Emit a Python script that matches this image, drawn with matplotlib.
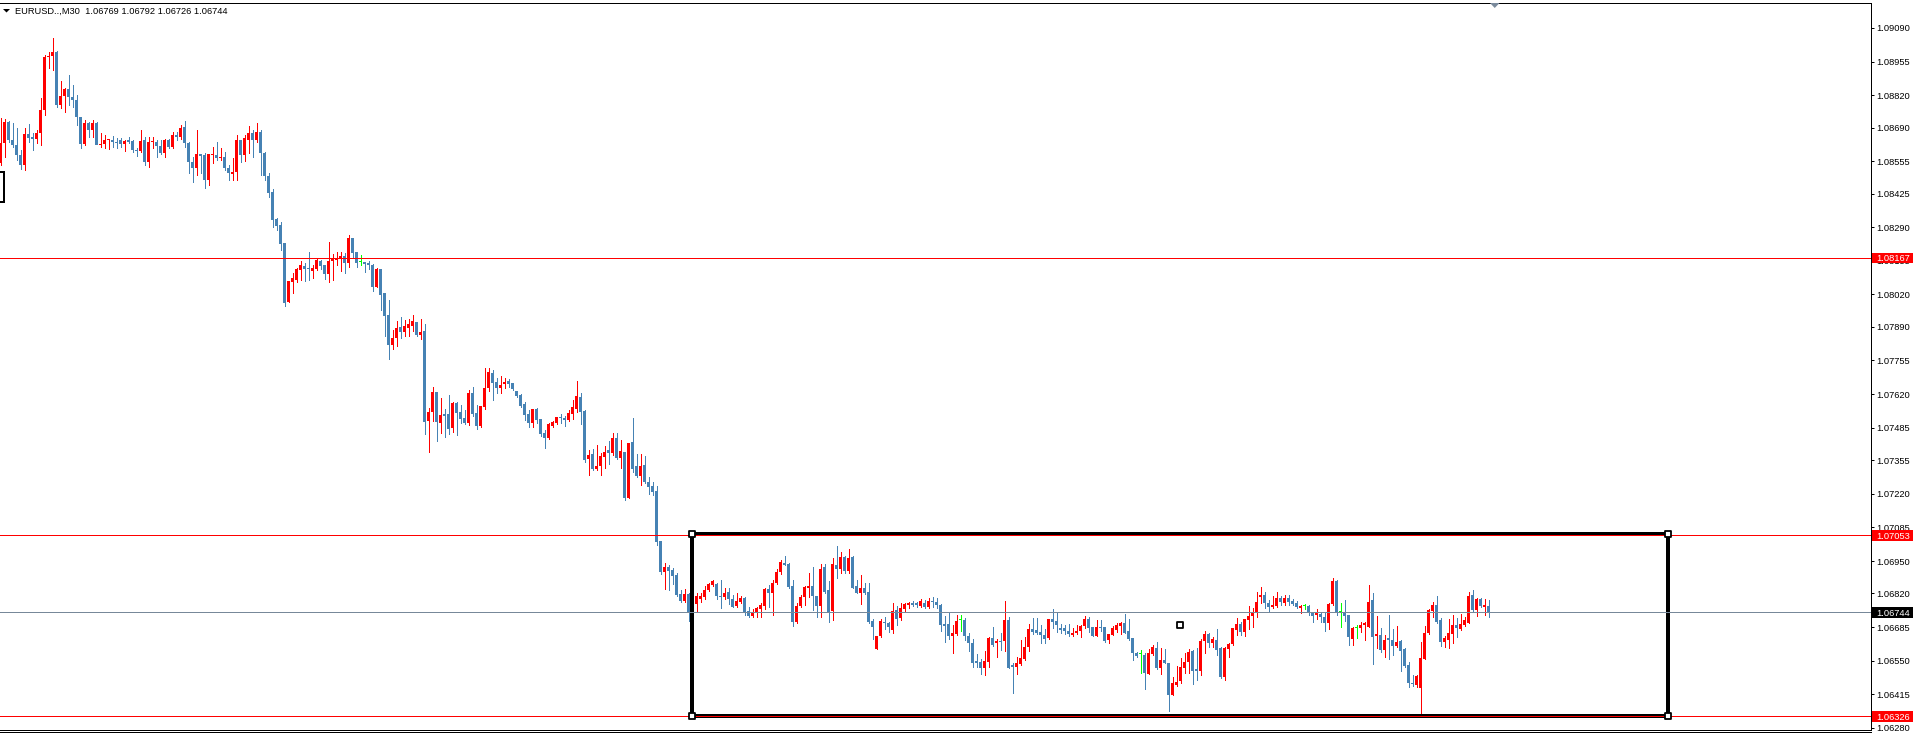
import matplotlib
matplotlib.use('agg')  # no display here
import numpy as np
from matplotlib import pyplot as plt
from matplotlib import transforms
from matplotlib.patches import Rectangle, Polygon
from matplotlib.lines import Line2D

plt.rcParams['font.family'] = ['Liberation Sans', 'DejaVu Sans']

symbol = 'EURUSD..,M30'

# M30 candles, oldest first
opens = [
    1.08548, 1.08628, 1.08712, 1.08640, 1.08620, 1.08580, 1.08540, 1.08664, 1.08652, 1.08644,
    1.08668, 1.08761, 1.08973, 1.08977, 1.08993, 1.08781, 1.08817, 1.08845, 1.08813, 1.08801,
    1.08732, 1.08624, 1.08708, 1.08680, 1.08708, 1.08620, 1.08624, 1.08640, 1.08640, 1.08632,
    1.08640, 1.08624, 1.08640, 1.08636, 1.08600, 1.08596, 1.08640, 1.08552, 1.08632, 1.08632,
    1.08616, 1.08588, 1.08640, 1.08612, 1.08660, 1.08652, 1.08692, 1.08628, 1.08552, 1.08528,
    1.08584, 1.08580, 1.08480, 1.08580, 1.08580, 1.08568, 1.08572, 1.08528, 1.08504, 1.08512,
    1.08640, 1.08580, 1.08640, 1.08668, 1.08640, 1.08672, 1.08588, 1.08496, 1.08431, 1.08323,
    1.08299, 1.08227, 1.07990, 1.08070, 1.08078, 1.08118, 1.08134, 1.08126, 1.08116, 1.08122,
    1.08154, 1.08138, 1.08102, 1.08154, 1.08158, 1.08166, 1.08174, 1.08146, 1.08247, 1.08190,
    1.08150, 1.08150, 1.08146, 1.08138, 1.08050, 1.08122, 1.08026, 1.07938, 1.07817, 1.07845,
    1.07889, 1.07869, 1.07885, 1.07893, 1.07910, 1.07857, 1.07873, 1.07512, 1.07548, 1.07629,
    1.07504, 1.07540, 1.07540, 1.07484, 1.07584, 1.07548, 1.07524, 1.07504, 1.07625, 1.07544,
    1.07492, 1.07568, 1.07645, 1.07705, 1.07669, 1.07645, 1.07661, 1.07673, 1.07665, 1.07633,
    1.07617, 1.07580, 1.07540, 1.07504, 1.07560, 1.07520, 1.07464, 1.07444, 1.07492, 1.07504,
    1.07528, 1.07524, 1.07516, 1.07540, 1.07560, 1.07609, 1.07552, 1.07360, 1.07380, 1.07319,
    1.07331, 1.07368, 1.07396, 1.07384, 1.07444, 1.07364, 1.07388, 1.07203, 1.07428, 1.07331,
    1.07291, 1.07335, 1.07267, 1.07251, 1.07231, 1.07030, 1.06906, 1.06926, 1.06914, 1.06894,
    1.06818, 1.06790, 1.06818, 1.06733, 1.06778, 1.06798, 1.06806, 1.06834, 1.06854, 1.06858,
    1.06810, 1.06806, 1.06826, 1.06798, 1.06770, 1.06786, 1.06802, 1.06749, 1.06729, 1.06741,
    1.06758, 1.06770, 1.06838, 1.06822, 1.06862, 1.06906, 1.06942, 1.06938, 1.06850, 1.06705,
    1.06770, 1.06806, 1.06842, 1.06850, 1.06810, 1.06770, 1.06926, 1.06834, 1.06749, 1.06934,
    1.06918, 1.06966, 1.06910, 1.06966, 1.06850, 1.06822, 1.06842, 1.06826, 1.06709, 1.06597,
    1.06649, 1.06705, 1.06701, 1.06673, 1.06753, 1.06721, 1.06758, 1.06774, 1.06782, 1.06782,
    1.06770, 1.06782, 1.06766, 1.06790, 1.06786, 1.06774, 1.06697, 1.06697, 1.06649, 1.06657,
    1.06713, 1.06713, 1.06649, 1.06621, 1.06549, 1.06545, 1.06521, 1.06545, 1.06641, 1.06621,
    1.06629, 1.06629, 1.06713, 1.06533, 1.06525, 1.06537, 1.06557, 1.06605, 1.06677, 1.06673,
    1.06665, 1.06653, 1.06641, 1.06717, 1.06709, 1.06681, 1.06681, 1.06669, 1.06653, 1.06661,
    1.06669, 1.06689, 1.06717, 1.06685, 1.06649, 1.06685, 1.06685, 1.06633, 1.06653, 1.06673,
    1.06689, 1.06701, 1.06669, 1.06641, 1.06581, 1.06577, 1.06573, 1.06497, 1.06577, 1.06601,
    1.06521, 1.06553, 1.06541, 1.06412, 1.06453, 1.06469, 1.06521, 1.06545, 1.06589, 1.06517,
    1.06509, 1.06629, 1.06657, 1.06621, 1.06633, 1.06601, 1.06485, 1.06597, 1.06617, 1.06673,
    1.06697, 1.06665, 1.06713, 1.06729, 1.06741, 1.06806, 1.06814, 1.06782, 1.06766, 1.06770,
    1.06802, 1.06782, 1.06802, 1.06790, 1.06782, 1.06762, 1.06770, 1.06770, 1.06741, 1.06733,
    1.06737, 1.06725, 1.06701, 1.06778, 1.06870, 1.06745, 1.06745, 1.06733, 1.06637, 1.06681,
    1.06681, 1.06693, 1.06685, 1.06794, 1.06649, 1.06653, 1.06593, 1.06641, 1.06633, 1.06609,
    1.06629, 1.06597, 1.06533, 1.06461, 1.06453, 1.06440, 1.06557, 1.06661, 1.06749, 1.06774,
    1.06713, 1.06625, 1.06633, 1.06657, 1.06693, 1.06677, 1.06693, 1.06701, 1.06814, 1.06753,
    1.06798, 1.06766, 1.06769,
]
highs = [
    1.08728, 1.08724, 1.08716, 1.08708, 1.08688, 1.08600, 1.08688, 1.08704, 1.08668, 1.08680,
    1.08809, 1.08981, 1.08993, 1.09049, 1.08997, 1.08877, 1.08849, 1.08901, 1.08861, 1.08821,
    1.08732, 1.08720, 1.08712, 1.08720, 1.08712, 1.08668, 1.08660, 1.08644, 1.08656, 1.08648,
    1.08648, 1.08640, 1.08652, 1.08640, 1.08608, 1.08680, 1.08652, 1.08652, 1.08652, 1.08640,
    1.08640, 1.08644, 1.08644, 1.08672, 1.08672, 1.08700, 1.08716, 1.08632, 1.08572, 1.08680,
    1.08584, 1.08588, 1.08584, 1.08612, 1.08632, 1.08608, 1.08592, 1.08540, 1.08568, 1.08660,
    1.08640, 1.08660, 1.08696, 1.08680, 1.08708, 1.08680, 1.08592, 1.08508, 1.08443, 1.08327,
    1.08311, 1.08227, 1.08074, 1.08106, 1.08126, 1.08154, 1.08146, 1.08190, 1.08138, 1.08162,
    1.08158, 1.08138, 1.08231, 1.08182, 1.08190, 1.08190, 1.08186, 1.08259, 1.08247, 1.08190,
    1.08178, 1.08150, 1.08154, 1.08142, 1.08126, 1.08122, 1.08026, 1.07998, 1.07877, 1.07914,
    1.07930, 1.07918, 1.07922, 1.07938, 1.07910, 1.07922, 1.07901, 1.07564, 1.07649, 1.07629,
    1.07604, 1.07560, 1.07616, 1.07588, 1.07588, 1.07576, 1.07556, 1.07637, 1.07649, 1.07576,
    1.07572, 1.07725, 1.07725, 1.07717, 1.07685, 1.07693, 1.07685, 1.07681, 1.07665, 1.07633,
    1.07621, 1.07588, 1.07556, 1.07560, 1.07564, 1.07520, 1.07476, 1.07504, 1.07512, 1.07528,
    1.07540, 1.07532, 1.07556, 1.07596, 1.07673, 1.07625, 1.07556, 1.07396, 1.07400, 1.07416,
    1.07384, 1.07412, 1.07432, 1.07464, 1.07464, 1.07436, 1.07388, 1.07424, 1.07524, 1.07380,
    1.07380, 1.07372, 1.07287, 1.07267, 1.07251, 1.07030, 1.06942, 1.06934, 1.06922, 1.06902,
    1.06834, 1.06838, 1.06822, 1.06782, 1.06822, 1.06822, 1.06850, 1.06862, 1.06874, 1.06862,
    1.06874, 1.06842, 1.06842, 1.06814, 1.06822, 1.06810, 1.06806, 1.06766, 1.06758, 1.06766,
    1.06782, 1.06842, 1.06854, 1.06874, 1.06918, 1.06954, 1.06970, 1.06942, 1.06874, 1.06782,
    1.06814, 1.06850, 1.06902, 1.06926, 1.06810, 1.06938, 1.06938, 1.06870, 1.06962, 1.07010,
    1.06986, 1.06970, 1.06998, 1.06970, 1.06874, 1.06894, 1.06862, 1.06862, 1.06717, 1.06649,
    1.06717, 1.06725, 1.06705, 1.06782, 1.06770, 1.06782, 1.06782, 1.06786, 1.06790, 1.06786,
    1.06798, 1.06794, 1.06802, 1.06806, 1.06802, 1.06778, 1.06729, 1.06741, 1.06693, 1.06733,
    1.06733, 1.06721, 1.06661, 1.06637, 1.06577, 1.06557, 1.06589, 1.06645, 1.06685, 1.06637,
    1.06661, 1.06790, 1.06725, 1.06541, 1.06565, 1.06633, 1.06645, 1.06697, 1.06721, 1.06721,
    1.06693, 1.06677, 1.06717, 1.06758, 1.06741, 1.06697, 1.06693, 1.06697, 1.06681, 1.06693,
    1.06693, 1.06729, 1.06725, 1.06685, 1.06713, 1.06713, 1.06685, 1.06657, 1.06689, 1.06701,
    1.06705, 1.06737, 1.06717, 1.06641, 1.06585, 1.06593, 1.06581, 1.06597, 1.06613, 1.06625,
    1.06601, 1.06597, 1.06541, 1.06485, 1.06529, 1.06561, 1.06581, 1.06597, 1.06593, 1.06601,
    1.06637, 1.06669, 1.06661, 1.06645, 1.06677, 1.06605, 1.06605, 1.06621, 1.06681, 1.06721,
    1.06705, 1.06717, 1.06770, 1.06762, 1.06826, 1.06846, 1.06826, 1.06794, 1.06810, 1.06826,
    1.06810, 1.06814, 1.06814, 1.06798, 1.06790, 1.06774, 1.06778, 1.06774, 1.06745, 1.06758,
    1.06745, 1.06741, 1.06782, 1.06882, 1.06874, 1.06782, 1.06794, 1.06733, 1.06685, 1.06693,
    1.06705, 1.06705, 1.06854, 1.06822, 1.06729, 1.06681, 1.06653, 1.06733, 1.06677, 1.06689,
    1.06633, 1.06601, 1.06545, 1.06493, 1.06493, 1.06625, 1.06689, 1.06758, 1.06786, 1.06810,
    1.06721, 1.06649, 1.06717, 1.06733, 1.06721, 1.06737, 1.06725, 1.06826, 1.06834, 1.06802,
    1.06802, 1.06798, 1.06792,
]
lows = [
    1.08540, 1.08572, 1.08632, 1.08612, 1.08560, 1.08524, 1.08520, 1.08632, 1.08600, 1.08628,
    1.08620, 1.08740, 1.08929, 1.08921, 1.08773, 1.08769, 1.08752, 1.08781, 1.08773, 1.08700,
    1.08608, 1.08620, 1.08652, 1.08652, 1.08652, 1.08612, 1.08608, 1.08604, 1.08612, 1.08608,
    1.08612, 1.08596, 1.08628, 1.08592, 1.08576, 1.08592, 1.08540, 1.08532, 1.08608, 1.08572,
    1.08584, 1.08572, 1.08608, 1.08608, 1.08640, 1.08644, 1.08612, 1.08508, 1.08471, 1.08500,
    1.08508, 1.08447, 1.08460, 1.08548, 1.08560, 1.08560, 1.08520, 1.08480, 1.08480, 1.08480,
    1.08552, 1.08556, 1.08588, 1.08572, 1.08632, 1.08500, 1.08480, 1.08411, 1.08291, 1.08279,
    1.08199, 1.07974, 1.07990, 1.08026, 1.08070, 1.08078, 1.08074, 1.08078, 1.08086, 1.08118,
    1.08122, 1.08082, 1.08070, 1.08078, 1.08138, 1.08114, 1.08106, 1.08130, 1.08166, 1.08130,
    1.08138, 1.08110, 1.08122, 1.08034, 1.08050, 1.07958, 1.07853, 1.07761, 1.07801, 1.07813,
    1.07845, 1.07853, 1.07853, 1.07873, 1.07853, 1.07841, 1.07460, 1.07388, 1.07512, 1.07432,
    1.07464, 1.07448, 1.07460, 1.07468, 1.07456, 1.07504, 1.07500, 1.07496, 1.07532, 1.07480,
    1.07488, 1.07560, 1.07633, 1.07596, 1.07625, 1.07625, 1.07645, 1.07649, 1.07637, 1.07609,
    1.07568, 1.07516, 1.07488, 1.07488, 1.07504, 1.07452, 1.07404, 1.07440, 1.07488, 1.07500,
    1.07504, 1.07492, 1.07512, 1.07520, 1.07548, 1.07500, 1.07348, 1.07295, 1.07315, 1.07315,
    1.07295, 1.07323, 1.07339, 1.07376, 1.07360, 1.07323, 1.07195, 1.07203, 1.07307, 1.07287,
    1.07255, 1.07263, 1.07219, 1.07215, 1.07014, 1.06898, 1.06838, 1.06834, 1.06858, 1.06810,
    1.06786, 1.06786, 1.06709, 1.06725, 1.06749, 1.06786, 1.06798, 1.06830, 1.06850, 1.06798,
    1.06762, 1.06798, 1.06778, 1.06766, 1.06766, 1.06782, 1.06733, 1.06725, 1.06725, 1.06725,
    1.06725, 1.06758, 1.06766, 1.06733, 1.06858, 1.06898, 1.06934, 1.06842, 1.06689, 1.06701,
    1.06766, 1.06774, 1.06806, 1.06754, 1.06725, 1.06725, 1.06822, 1.06705, 1.06713, 1.06882,
    1.06902, 1.06902, 1.06902, 1.06842, 1.06822, 1.06778, 1.06818, 1.06701, 1.06637, 1.06597,
    1.06645, 1.06677, 1.06665, 1.06661, 1.06693, 1.06713, 1.06749, 1.06762, 1.06770, 1.06766,
    1.06766, 1.06762, 1.06762, 1.06766, 1.06762, 1.06669, 1.06625, 1.06637, 1.06581, 1.06653,
    1.06669, 1.06633, 1.06589, 1.06525, 1.06525, 1.06495, 1.06491, 1.06525, 1.06609, 1.06565,
    1.06593, 1.06589, 1.06521, 1.06420, 1.06495, 1.06533, 1.06553, 1.06589, 1.06657, 1.06657,
    1.06621, 1.06621, 1.06637, 1.06681, 1.06665, 1.06661, 1.06657, 1.06649, 1.06649, 1.06657,
    1.06645, 1.06681, 1.06665, 1.06649, 1.06649, 1.06669, 1.06625, 1.06621, 1.06653, 1.06665,
    1.06657, 1.06661, 1.06633, 1.06553, 1.06565, 1.06501, 1.06436, 1.06495, 1.06573, 1.06517,
    1.06495, 1.06541, 1.06348, 1.06412, 1.06448, 1.06461, 1.06501, 1.06501, 1.06457, 1.06473,
    1.06493, 1.06581, 1.06605, 1.06605, 1.06573, 1.06481, 1.06473, 1.06565, 1.06613, 1.06653,
    1.06653, 1.06649, 1.06677, 1.06685, 1.06725, 1.06782, 1.06762, 1.06749, 1.06762, 1.06766,
    1.06774, 1.06774, 1.06774, 1.06774, 1.06762, 1.06741, 1.06758, 1.06733, 1.06705, 1.06717,
    1.06705, 1.06669, 1.06677, 1.06774, 1.06733, 1.06685, 1.06709, 1.06613, 1.06613, 1.06641,
    1.06665, 1.06633, 1.06685, 1.06537, 1.06601, 1.06585, 1.06565, 1.06557, 1.06573, 1.06605,
    1.06509, 1.06525, 1.06444, 1.06448, 1.06444, 1.06340, 1.06557, 1.06657, 1.06725, 1.06701,
    1.06609, 1.06605, 1.06601, 1.06621, 1.06645, 1.06673, 1.06689, 1.06701, 1.06749, 1.06729,
    1.06766, 1.06733, 1.06726,
]
closes = [
    1.08628, 1.08712, 1.08640, 1.08620, 1.08580, 1.08540, 1.08664, 1.08648, 1.08644, 1.08668,
    1.08761, 1.08973, 1.08977, 1.08993, 1.08781, 1.08817, 1.08845, 1.08813, 1.08801, 1.08732,
    1.08624, 1.08708, 1.08680, 1.08708, 1.08620, 1.08624, 1.08640, 1.08642, 1.08632, 1.08628,
    1.08624, 1.08636, 1.08632, 1.08600, 1.08596, 1.08636, 1.08552, 1.08632, 1.08634, 1.08616,
    1.08588, 1.08640, 1.08612, 1.08660, 1.08652, 1.08688, 1.08628, 1.08552, 1.08528, 1.08584,
    1.08576, 1.08480, 1.08584, 1.08582, 1.08568, 1.08572, 1.08528, 1.08508, 1.08512, 1.08640,
    1.08580, 1.08648, 1.08668, 1.08640, 1.08672, 1.08588, 1.08496, 1.08427, 1.08319, 1.08295,
    1.08223, 1.07986, 1.08074, 1.08086, 1.08122, 1.08138, 1.08122, 1.08122, 1.08128, 1.08158,
    1.08134, 1.08102, 1.08154, 1.08166, 1.08168, 1.08174, 1.08146, 1.08247, 1.08186, 1.08146,
    1.08150, 1.08142, 1.08138, 1.08050, 1.08122, 1.08018, 1.07934, 1.07817, 1.07845, 1.07885,
    1.07869, 1.07893, 1.07901, 1.07914, 1.07857, 1.07869, 1.07508, 1.07548, 1.07629, 1.07508,
    1.07536, 1.07532, 1.07480, 1.07584, 1.07544, 1.07520, 1.07504, 1.07625, 1.07540, 1.07492,
    1.07572, 1.07645, 1.07709, 1.07665, 1.07645, 1.07657, 1.07669, 1.07661, 1.07641, 1.07613,
    1.07572, 1.07536, 1.07504, 1.07560, 1.07516, 1.07460, 1.07444, 1.07500, 1.07508, 1.07528,
    1.07524, 1.07516, 1.07544, 1.07568, 1.07613, 1.07548, 1.07356, 1.07376, 1.07319, 1.07331,
    1.07372, 1.07388, 1.07384, 1.07444, 1.07364, 1.07392, 1.07203, 1.07424, 1.07319, 1.07291,
    1.07331, 1.07267, 1.07247, 1.07227, 1.07026, 1.06906, 1.06926, 1.06910, 1.06890, 1.06814,
    1.06790, 1.06818, 1.06741, 1.06778, 1.06810, 1.06810, 1.06834, 1.06858, 1.06870, 1.06810,
    1.06806, 1.06822, 1.06798, 1.06766, 1.06790, 1.06802, 1.06741, 1.06729, 1.06745, 1.06762,
    1.06774, 1.06838, 1.06822, 1.06862, 1.06906, 1.06946, 1.06934, 1.06846, 1.06705, 1.06770,
    1.06806, 1.06846, 1.06850, 1.06810, 1.06770, 1.06918, 1.06826, 1.06745, 1.06938, 1.06918,
    1.06966, 1.06910, 1.06962, 1.06842, 1.06822, 1.06842, 1.06822, 1.06705, 1.06685, 1.06649,
    1.06709, 1.06701, 1.06685, 1.06749, 1.06717, 1.06762, 1.06778, 1.06782, 1.06774, 1.06774,
    1.06790, 1.06766, 1.06790, 1.06786, 1.06774, 1.06693, 1.06689, 1.06649, 1.06661, 1.06709,
    1.06713, 1.06649, 1.06621, 1.06541, 1.06541, 1.06521, 1.06549, 1.06641, 1.06613, 1.06629,
    1.06625, 1.06713, 1.06521, 1.06525, 1.06541, 1.06561, 1.06605, 1.06677, 1.06665, 1.06661,
    1.06653, 1.06637, 1.06717, 1.06705, 1.06693, 1.06673, 1.06669, 1.06657, 1.06661, 1.06669,
    1.06689, 1.06717, 1.06681, 1.06649, 1.06685, 1.06681, 1.06629, 1.06657, 1.06681, 1.06693,
    1.06701, 1.06661, 1.06637, 1.06581, 1.06569, 1.06577, 1.06501, 1.06581, 1.06605, 1.06521,
    1.06553, 1.06541, 1.06412, 1.06461, 1.06465, 1.06525, 1.06545, 1.06585, 1.06509, 1.06509,
    1.06629, 1.06657, 1.06621, 1.06637, 1.06593, 1.06485, 1.06601, 1.06617, 1.06681, 1.06697,
    1.06665, 1.06717, 1.06729, 1.06745, 1.06786, 1.06814, 1.06782, 1.06766, 1.06774, 1.06802,
    1.06786, 1.06802, 1.06786, 1.06778, 1.06766, 1.06770, 1.06770, 1.06741, 1.06729, 1.06741,
    1.06725, 1.06701, 1.06778, 1.06870, 1.06741, 1.06745, 1.06729, 1.06645, 1.06681, 1.06681,
    1.06693, 1.06701, 1.06786, 1.06645, 1.06657, 1.06593, 1.06633, 1.06633, 1.06609, 1.06625,
    1.06589, 1.06529, 1.06461, 1.06457, 1.06489, 1.06561, 1.06661, 1.06753, 1.06774, 1.06705,
    1.06625, 1.06641, 1.06661, 1.06693, 1.06681, 1.06697, 1.06713, 1.06810, 1.06753, 1.06798,
    1.06770, 1.06774, 1.06744,
]

tick_prices = [1.09090, 1.08955, 1.08820, 1.08690, 1.08555, 1.08425, 1.08290, 1.08155,
               1.08020, 1.07890, 1.07755, 1.07620, 1.07485, 1.07355, 1.07220, 1.07085,
               1.06950, 1.06820, 1.06685, 1.06550, 1.06415, 1.06280]
red_levels = [1.08167, 1.07053, 1.06326]
bid = 1.06744

# drawn objects, anchored in bar index / price
range_box = (172.83, 416.83, 1.06330, 1.07058)
old_box = (-6.0, 0.71, 1.08391, 1.08512)

W, H = 1914, 733
PX = 0.72  # one pixel in points at 100 dpi
BULL, BEAR, DOJI = '#ff0000', '#4682b4', '#00ff00'
FS = 6.7
YMIN, YMAX = 1.062718, 1.091900

fig = plt.figure(figsize=(W / 100, H / 100), dpi=100)
fig.patch.set_facecolor('white')
ax = fig.add_axes([0, 3 / H, 1871 / W, 727 / H])
ax.set_facecolor('white')
ax.set_xlim(-0.1675, 467.58)
ax.set_ylim(YMIN, YMAX)
px_price = (YMAX - YMIN) / 727

o = np.array(opens)
hi = np.array(highs)
lo = np.array(lows)
c = np.array(closes)
x = np.arange(len(o))
col = np.where(c > o, BULL, np.where(c < o, BEAR, DOJI))

ax.vlines(x, lo, hi, colors=col, linewidth=PX, antialiased=False, zorder=2)
ax.bar(x, np.maximum(np.abs(c - o), px_price), bottom=np.minimum(o, c), width=0.75,
       color=col, linewidth=0, antialiased=False, zorder=2)

# range rectangle (selected) + leftover of an older one
x0, x1, y0, y1 = range_box
ax.add_patch(Rectangle((x0, y0), x1 - x0, y1 - y0, fill=False, ec='black',
                       lw=2.5 * PX, antialiased=False, zorder=3))
ax.scatter([x0, x1, x0, x1, (x0 + x1) / 2], [y1, y1, y0, y0, (y0 + y1) / 2],
           marker='s', s=13, facecolor='white', edgecolor='black', linewidths=1.3, zorder=6)
bx0, bx1, by0, by1 = old_box
ax.add_patch(Rectangle((bx0, by0), bx1 - bx0, by1 - by0, fill=False, ec='black',
                       lw=2 * PX, antialiased=False, zorder=3))

for lv in red_levels:
    ax.axhline(lv, color=BULL, lw=PX, antialiased=False, zorder=4)
ax.axhline(bid, color='#778899', lw=PX, antialiased=False, zorder=4)

# axes frame and price scale
ax.spines['left'].set_visible(False)
for s in ['top', 'right', 'bottom']:
    ax.spines[s].set_linewidth(PX)
    ax.spines[s].set_color('black')
ax.set_xticks([])
ax.yaxis.tick_right()
ax.set_yticks(tick_prices, labels=[f'{p:.5f}' for p in tick_prices])
ax.tick_params(axis='y', length=3 * PX, width=PX, pad=2 * PX, labelsize=FS, colors='black')

trans = transforms.blended_transform_factory(fig.transFigure, ax.transData)


def price_tag(p, fc):
    hh = 10.5 * px_price
    fig.add_artist(Rectangle((1872 / W, p - hh / 2), 41 / W, hh, transform=trans,
                             fc=fc, ec='none', zorder=5))
    fig.text(1876 / W, p, f'{p:.5f}', transform=trans, color='white', fontsize=FS,
             va='center_baseline', ha='left', zorder=6)


for lv in red_levels:
    price_tag(lv, BULL)
price_tag(bid, 'black')

fig.add_artist(Line2D([0, 1871 / W], [1 / H, 1 / H], transform=fig.transFigure,
                      color='black', lw=PX, antialiased=False))

# header
fig.add_artist(Polygon([(3 / W, 1 - 9 / H), (10 / W, 1 - 9 / H), (6.5 / W, 1 - 12.5 / H)],
                       closed=True, transform=fig.transFigure, fc='black', ec='none'))
fig.text(15 / W, 1 - 13.5 / H,
         f'{symbol}  {opens[-1]:.5f} {highs[-1]:.5f} {lows[-1]:.5f} {closes[-1]:.5f}',
         fontsize=FS, va='baseline', ha='left', color='black')

# chart shift marker
fig.add_artist(Polygon([(1490 / W, 1 - 3 / H), (1499.5 / W, 1 - 3 / H), (1494.75 / W, 1 - 8 / H)],
                       closed=True, transform=fig.transFigure, fc='#7a8a9c', ec='none'))

fig.savefig('out.png', dpi=100, facecolor='white')
